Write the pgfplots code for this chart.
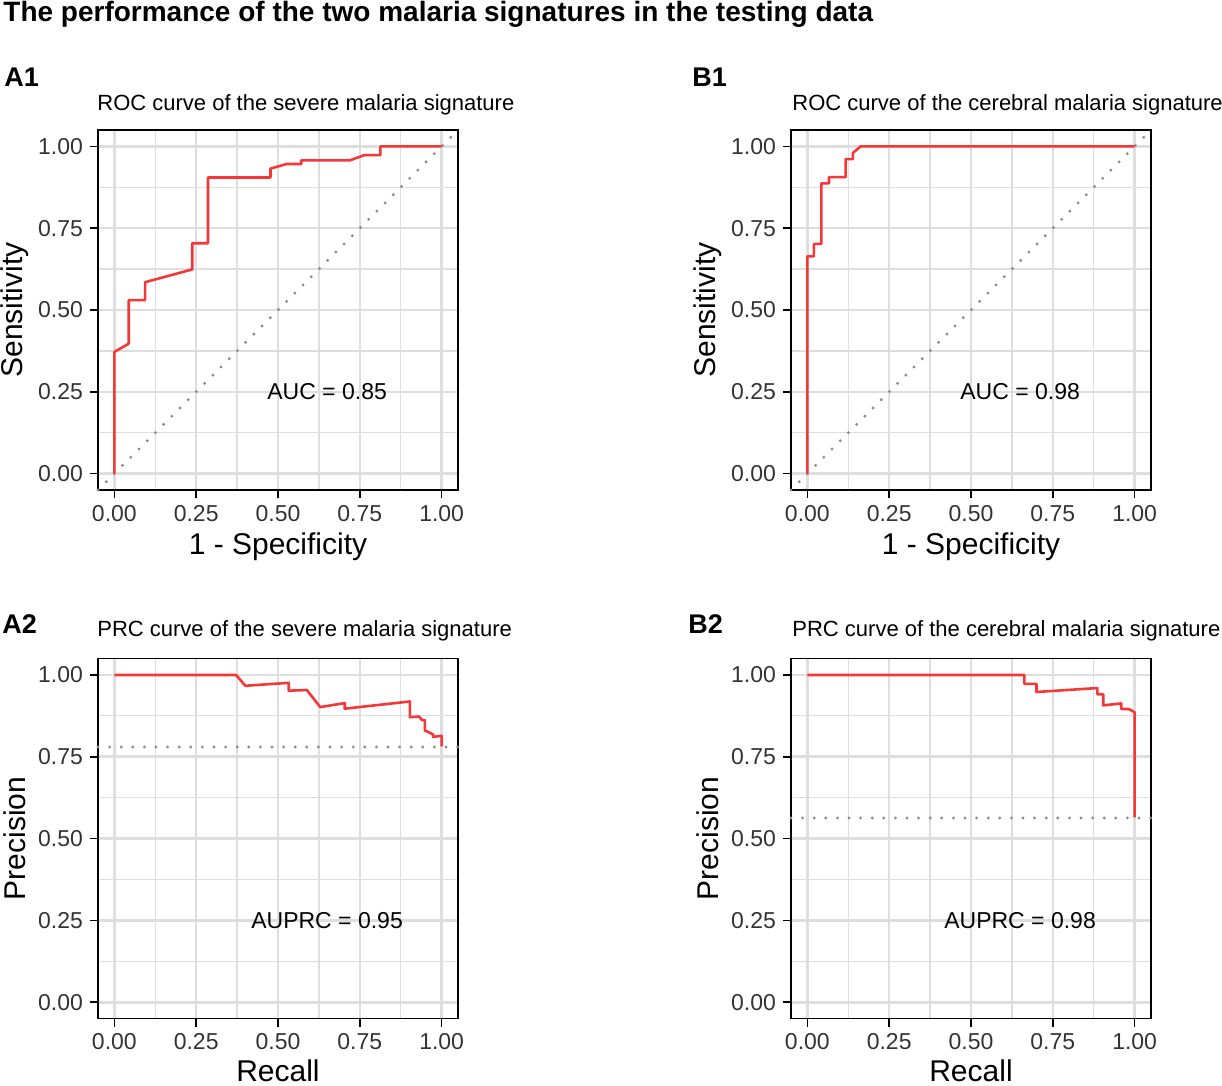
\documentclass[border=0pt]{standalone}
\usepackage{fontspec}
\setmainfont{Liberation Sans}
\usepackage{pgfplots}
\pgfplotsset{compat=1.18}

\definecolor{curvered}{RGB}{245,55,55}
\definecolor{gridgray}{RGB}{222,222,222}
\definecolor{refgray}{RGB}{140,140,140}

\pgfplotsset{
  panel/.style={
    scale only axis, width=180pt, height=180pt,
    xmin=-0.05, xmax=1.05, ymin=-0.05, ymax=1.05,
    xtick={0,0.25,0.5,0.75,1}, ytick={0,0.25,0.5,0.75,1},
    minor xtick={0.125,0.375,0.625,0.875},
    minor ytick={0.125,0.375,0.625,0.875},
    xticklabels={0.00,0.25,0.50,0.75,1.00},
    yticklabels={0.00,0.25,0.50,0.75,1.00},
    grid=both,
    major grid style={gridgray, line width=1.3pt},
    minor grid style={gridgray, line width=0.6pt},
    tick align=outside, tick pos=left,
    major tick length=4pt, minor tick length=0pt,
    tick style={black, line width=0.8pt},
    axis line style={black, line width=0.7pt},
    ticklabel style={font=\fontsize{11.5}{13}\selectfont, text=black!80},
    /pgf/number format/assume math mode=true,
    xlabel style={font=\fontsize{15}{17}\selectfont, at={(axis description cs:0.5,-0.158)}, anchor=center},
    ylabel style={font=\fontsize{15}{17}\selectfont, at={(axis description cs:-0.232,0.5)}, anchor=center},
    clip=false,
  },
  prc/.style={xlabel style={at={(axis description cs:0.5,-0.145)}, inner sep=0.5pt}},
  curve/.style={curvered, line width=1.3pt, line join=round},
  ref/.style={refgray, line width=1.6pt, line cap=round, dash pattern=on 0pt off 5.8pt},
}

\newcommand{\sub}{\fontsize{11}{13}\selectfont}
\newcommand{\tag}{\fontsize{13.5}{15}\selectfont\bfseries}

\begin{document}
\begin{tikzpicture}
\useasboundingbox (0,0) rectangle (611pt,-543pt);

\node[anchor=base west, inner sep=0] at (1.5pt,-10.8pt) {\fontsize{14}{16}\selectfont\bfseries The performance of the two malaria signatures in the testing data};

\node[anchor=base west, inner sep=0] at (2pt,-43.5pt) {\tag A1};
\node[anchor=base west, inner sep=0] at (346pt,-43.5pt) {\tag B1};
\node[anchor=base west, inner sep=0] at (1pt,-316.5pt) {\tag A2};
\node[anchor=base west, inner sep=0] at (344pt,-316.5pt) {\tag B2};

\node[anchor=base west, inner sep=0] at (48.5pt,-55.5pt) {\sub ROC curve of the severe malaria signature};
\node[anchor=base west, inner sep=0] at (396pt,-55.5pt) {\sub ROC curve of the cerebral malaria signature};
\node[anchor=base west, inner sep=0] at (48.5pt,-318.3pt) {\sub PRC curve of the severe malaria signature};
\node[anchor=base west, inner sep=0] at (396pt,-318.3pt) {\sub PRC curve of the cerebral malaria signature};

% A1: ROC, severe malaria
\begin{axis}[panel, at={(49pt,-65pt)}, anchor=north west,
  xlabel={1 - Specificity}, ylabel={Sensitivity}]
  \addplot[ref] coordinates {(-0.05,-0.05) (1.05,1.05)};
  \addplot[curve] coordinates {
    (0,0) (0,0.372) (0.044,0.397) (0.044,0.530) (0.094,0.530) (0.094,0.585)
    (0.238,0.624) (0.238,0.704) (0.286,0.704) (0.286,0.905) (0.477,0.905)
    (0.477,0.932) (0.526,0.946) (0.571,0.946) (0.571,0.957) (0.719,0.957)
    (0.763,0.973) (0.813,0.973) (0.813,1) (1,1)};
  \node[font=\fontsize{11.5}{13}\selectfont] at (axis cs:0.65,0.25) {AUC = 0.85};
\end{axis}

% B1: ROC, cerebral malaria
\begin{axis}[panel, at={(395.5pt,-65pt)}, anchor=north west,
  xlabel={1 - Specificity}, ylabel={Sensitivity}]
  \addplot[ref] coordinates {(-0.05,-0.05) (1.05,1.05)};
  \addplot[curve] coordinates {
    (0,0) (0,0.664) (0.020,0.664) (0.020,0.702) (0.043,0.702) (0.043,0.887)
    (0.066,0.887) (0.066,0.906) (0.117,0.906) (0.117,0.961) (0.139,0.961)
    (0.139,0.980) (0.163,1) (1,1)};
  \node[font=\fontsize{11.5}{13}\selectfont] at (axis cs:0.65,0.25) {AUC = 0.98};
\end{axis}

% A2: PRC, severe malaria
\begin{axis}[panel, prc, at={(49pt,-329.3pt)}, anchor=north west,
  xlabel={Recall}, ylabel={Precision}]
  \addplot[ref] coordinates {(-0.05,0.780) (1.05,0.780)};
  \addplot[curve] coordinates {
    (0,1) (0.372,1) (0.400,0.967) (0.533,0.976) (0.533,0.952) (0.588,0.954)
    (0.629,0.902) (0.704,0.914) (0.704,0.897) (0.903,0.919) (0.903,0.871)
    (0.931,0.873) (0.940,0.862) (0.949,0.862) (0.949,0.830) (0.959,0.826)
    (0.974,0.818) (0.974,0.811) (1,0.814) (1,0.782)};
  \node[font=\fontsize{11.5}{13}\selectfont] at (axis cs:0.65,0.25) {AUPRC = 0.95};
\end{axis}

% B2: PRC, cerebral malaria
\begin{axis}[panel, prc, at={(395.5pt,-329.3pt)}, anchor=north west,
  xlabel={Recall}, ylabel={Precision}]
  \addplot[ref] coordinates {(-0.05,0.563) (1.05,0.563)};
  \addplot[curve] coordinates {
    (0,1) (0.663,1) (0.663,0.973) (0.700,0.973) (0.700,0.948) (0.886,0.960)
    (0.886,0.941) (0.904,0.941) (0.904,0.907) (0.959,0.913) (0.959,0.896)
    (0.982,0.896) (1,0.886) (1,0.565)};
  \node[font=\fontsize{11.5}{13}\selectfont] at (axis cs:0.65,0.25) {AUPRC = 0.98};
\end{axis}
\end{tikzpicture}
\end{document}
